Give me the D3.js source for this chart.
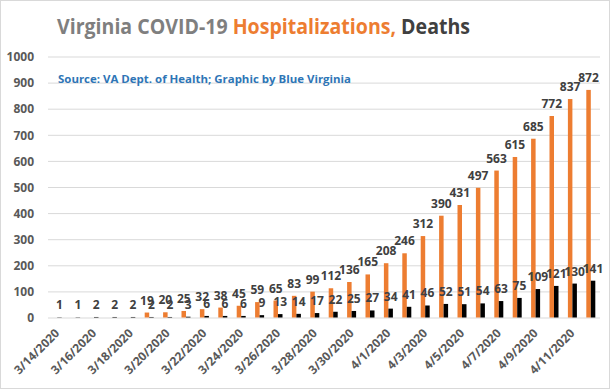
<!DOCTYPE html>
<html>
<head>
<meta charset="utf-8">
<script src="https://cdnjs.cloudflare.com/ajax/libs/d3/7.8.5/d3.min.js"></script>
<style>
  body { margin: 0; background: #fff; }
  text { font-family: "Open Sans", sans-serif; }
</style>
</head>
<body>
<div id="chart"></div>
<script>
// Chart size
var svgWidth = 610;
var svgHeight = 389;

var margin = { top: 56.5, right: 10, bottom: 71.5, left: 48 };
var chartWidth = svgWidth - margin.left - margin.right;
var chartHeight = svgHeight - margin.top - margin.bottom;

// Data
var dates = ["3/14/2020","3/15/2020","3/16/2020","3/17/2020","3/18/2020","3/19/2020",
  "3/20/2020","3/21/2020","3/22/2020","3/23/2020","3/24/2020","3/25/2020","3/26/2020",
  "3/27/2020","3/28/2020","3/29/2020","3/30/2020","3/31/2020","4/1/2020","4/2/2020",
  "4/3/2020","4/4/2020","4/5/2020","4/6/2020","4/7/2020","4/8/2020","4/9/2020",
  "4/10/2020","4/11/2020","4/12/2020"];
var hospitalizations = [null, null, null, null, null, 19, 20, 25, 32, 38, 45, 59, 65, 83, 99,
  112, 136, 165, 208, 246, 312, 390, 431, 497, 563, 615, 685, 772, 837, 872];
var deaths = [1, 1, 2, 2, 2, 2, 2, 3, 6, 6, 6, 9, 13, 14, 17, 22, 25, 27, 34, 41, 46, 52,
  51, 54, 63, 75, 109, 121, 130, 141];
var yTicks = [0, 100, 200, 300, 400, 500, 600, 700, 800, 900, 1000];

var svg = d3.select("#chart")
  .append("svg")
  .attr("width", svgWidth)
  .attr("height", svgHeight);

// outer border
svg.append("rect")
  .attr("x", 0.5).attr("y", 0.5)
  .attr("width", svgWidth - 1).attr("height", svgHeight - 1)
  .attr("fill", "#fff")
  .attr("stroke", "#d9d9d9");

// Title
var title = svg.append("text")
  .attr("x", 57)
  .attr("y", 34)
  .attr("textLength", 413)
  .attr("lengthAdjust", "spacingAndGlyphs")
  .style("font-size", "22px")
  .style("font-weight", "bold");
title.append("tspan").attr("fill", "#7f7f7f").text("Virginia COVID-19 ");
title.append("tspan").attr("fill", "#ed7d31").text("Hospitalizations,");
title.append("tspan").attr("fill", "#404040").text(" Deaths");

var chartGroup = svg.append("g")
  .attr("transform", `translate(${margin.left}, ${margin.top})`);

// Scales
var xScale = d3.scaleBand()
  .domain(dates)
  .range([0, chartWidth]);

var yScale = d3.scaleLinear()
  .domain([0, 1000])
  .range([chartHeight, 0]);

var barW = 4.5;

// gridlines + y axis
var yAxis = d3.axisLeft(yScale)
  .tickValues(yTicks)
  .tickFormat(d3.format("d"))
  .tickSize(-chartWidth)
  .tickPadding(14);

var yG = chartGroup.append("g").call(yAxis);
yG.select(".domain").remove();
yG.selectAll("line").attr("stroke", "#d9d9d9");
yG.selectAll("text")
  .attr("fill", "#595959")
  .style("font-size", "12px")
  .style("font-weight", "bold")
  .attr("dy", "0.35em");

// subtitle
chartGroup.append("text")
  .attr("x", 10)
  .attr("y", 83 - margin.top)
  .attr("textLength", 293)
  .attr("lengthAdjust", "spacingAndGlyphs")
  .attr("fill", "#2e75b6")
  .style("font-size", "11px")
  .style("font-weight", "bold")
  .text("Source: VA Dept. of Health; Graphic by Blue Virginia");

// x axis
var xAxis = d3.axisBottom(xScale)
  .tickValues(dates.filter((d, i) => i % 2 === 0))
  .tickSize(0)
  .tickPadding(0);

var xG = chartGroup.append("g")
  .attr("transform", `translate(0, ${chartHeight})`)
  .call(xAxis);
xG.select(".domain").remove();
xG.selectAll("text")
  .attr("fill", "#595959")
  .style("font-size", "12px")
  .style("font-weight", "bold")
  .attr("text-anchor", "end")
  .attr("dy", null)
  .attr("transform", "translate(3, 16.5) rotate(-45)");

// bars
var hospData = dates.map((d, i) => ({ date: d, value: hospitalizations[i] }))
  .filter(d => d.value !== null);
var deathData = dates.map((d, i) => ({ date: d, value: deaths[i] }));

chartGroup.selectAll(".hosp")
  .data(hospData)
  .enter()
  .append("rect")
  .attr("class", "hosp")
  .attr("x", d => xScale(d.date) + xScale.bandwidth() / 2 - barW)
  .attr("y", d => yScale(d.value))
  .attr("width", barW)
  .attr("height", d => chartHeight - yScale(d.value))
  .attr("fill", "#ed7d31");

chartGroup.selectAll(".death")
  .data(deathData)
  .enter()
  .append("rect")
  .attr("class", "death")
  .attr("x", d => xScale(d.date) + xScale.bandwidth() / 2)
  .attr("y", d => yScale(d.value))
  .attr("width", barW)
  .attr("height", d => chartHeight - yScale(d.value))
  .attr("fill", "#000");

// data labels
chartGroup.selectAll(".hospLabel")
  .data(hospData)
  .enter()
  .append("text")
  .attr("class", "hospLabel")
  .attr("x", d => xScale(d.date) + xScale.bandwidth() / 2 - barW / 2)
  .attr("y", d => yScale(d.value) - 8)
  .attr("text-anchor", "middle")
  .attr("fill", "#404040")
  .style("font-size", "12px")
  .style("font-weight", "bold")
  .text(d => d.value);

chartGroup.selectAll(".deathLabel")
  .data(deathData)
  .enter()
  .append("text")
  .attr("class", "deathLabel")
  .attr("x", d => xScale(d.date) + xScale.bandwidth() / 2 + barW / 2)
  .attr("y", d => yScale(d.value) - 8)
  .attr("text-anchor", "middle")
  .attr("fill", "#404040")
  .style("font-size", "12px")
  .style("font-weight", "bold")
  .text(d => d.value);
</script>
</body>
</html>
